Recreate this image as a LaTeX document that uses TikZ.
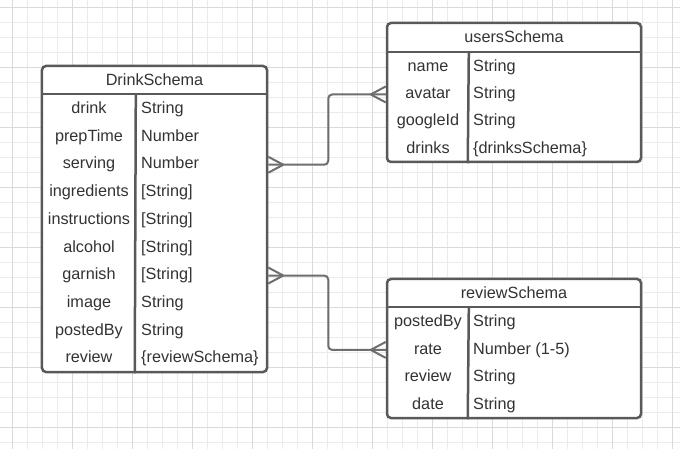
\documentclass[tikz,border=0pt]{standalone}
\usepackage{fontspec}
\setmainfont{Liberation Sans}
\definecolor{gridminor}{HTML}{EBEBEB}
\definecolor{gridmajor}{HTML}{DADADA}
\definecolor{tblgray}{HTML}{595959}
\definecolor{conngray}{HTML}{6E6E6E}
\definecolor{txtgray}{HTML}{333333}

\begin{document}
\begin{tikzpicture}[x=1bp, y=-1bp, font=\fontsize{16.3}{19}\selectfont,
  tbl/.style = {draw=tblgray, line width=2.5bp, rounded corners=4bp, fill=white, inner sep=0pt},
  head/.style = {minimum width=254bp, minimum height=30bp, inner sep=0pt, text=txtgray, anchor=north},
  fld/.style = {text=txtgray, text height=12pt, text depth=3.5pt, inner sep=0pt},
  typ/.style = {fld, anchor=west},
  sep/.style = {draw=tblgray, line width=2.5bp},
  conn/.style = {draw=conngray, line width=2bp, rounded corners=4bp}]
	\useasboundingbox[fill=white] (0,0) rectangle (680,449);
	% grid
	\foreach \x in {12.5,27.5,...,672.5} \draw[gridminor, line width=1bp] (\x,0) -- (\x,449);
	\foreach \y in {7.5,22.5,...,442.5} \draw[gridminor, line width=1bp] (0,\y) -- (680,\y);
	\foreach \x in {12.5,72.5,...,672.5} \draw[gridmajor, line width=1bp] (\x,0) -- (\x,449);
	\foreach \y in {7.5,67.5,...,427.5} \draw[gridmajor, line width=1bp] (0,\y) -- (680,\y);

	% DrinkSchema
	\node[tbl, minimum width=225bp, minimum height=306bp] (drink) at (154.5,219) {};
	\node[head, minimum width=225bp, minimum height=29bp] (drinkhead) at (drink.north) {DrinkSchema};
	\draw[sep] (drinkhead.south west) -- (drinkhead.south east);
	\draw[sep] ([xshift=94bp]drinkhead.south west) -- ([xshift=94bp]drink.south west);
	\foreach \f/\t [count=\i] in {drink/String, prepTime/Number, serving/Number,
	    ingredients/{[String]}, instructions/{[String]}, alcohol/{[String]},
	    garnish/{[String]}, image/String, postedBy/String, review/{\{reviewSchema\}}} {
		\node[fld] (d\i) at (89, {95.5+27.7*\i-13.85}) {\f};
		\node[typ] (dt\i) at (141, {95.5+27.7*\i-13.85}) {\t};
	}

	% usersSchema
	\node[tbl, minimum width=254bp, minimum height=139bp] (users) at (514,92.5) {};
	\node[head] (usershead) at (users.north) {usersSchema};
	\draw[sep] (usershead.south west) -- (usershead.south east);
	\draw[sep] ([xshift=82bp]usershead.south west) -- ([xshift=82bp]users.south west);
	\foreach \f/\t [count=\i] in {name/String, avatar/String, googleId/String,
	    drinks/{\{drinksSchema\}}} {
		\node[fld] (u\i) at (428, {53.5+27.3*\i-13.65}) {\f};
		\node[typ] (ut\i) at (473, {53.5+27.3*\i-13.65}) {\t};
	}

	% reviewSchema
	\node[tbl, minimum width=254bp, minimum height=139bp] (review) at (514,348.5) {};
	\node[head, minimum height=29bp] (reviewhead) at (review.north) {reviewSchema};
	\draw[sep] (reviewhead.south west) -- (reviewhead.south east);
	\draw[sep] ([xshift=82bp]reviewhead.south west) -- ([xshift=82bp]review.south west);
	\foreach \f/\t [count=\i] in {postedBy/String, rate/{Number (1-5)}, review/String,
	    date/String} {
		\node[fld] (r\i) at (428, {308.5+27.6*\i-13.8}) {\f};
		\node[typ] (rt\i) at (473, {308.5+27.6*\i-13.8}) {\t};
	}

	% relations (crow's feet at both ends)
	\draw[conn] (drink.east |- d3) -- ++(60,0) |- (users.west |- u2);
	\draw[conn] (drink.east |- d3) ++(15,0) -- ++(-15,-8) (drink.east |- d3) ++(15,0) -- ++(-15,8);
	\draw[conn] (users.west |- u2) ++(-15,0) -- ++(15,-8) (users.west |- u2) ++(-15,0) -- ++(15,8);

	\draw[conn] (drink.east |- d7) -- ++(60,0) |- (review.west |- r2);
	\draw[conn] (drink.east |- d7) ++(15,0) -- ++(-15,-8) (drink.east |- d7) ++(15,0) -- ++(-15,8);
	\draw[conn] (review.west |- r2) ++(-15,0) -- ++(15,-8) (review.west |- r2) ++(-15,0) -- ++(15,8);
\end{tikzpicture}
\end{document}
